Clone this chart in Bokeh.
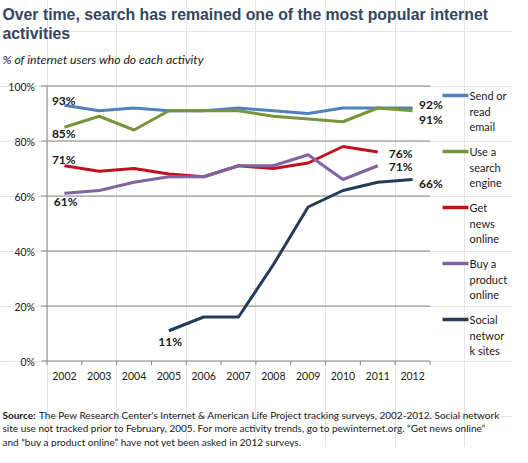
from bokeh.plotting import figure
from bokeh.models import ColumnDataSource, Range1d
from bokeh.core.properties import value
from bokeh.embed import file_html
from bokeh.resources import INLINE

# ---------------------------------------------------------------
# data
# ---------------------------------------------------------------
years = ["2002", "2003", "2004", "2005", "2006", "2007",
         "2008", "2009", "2010", "2011", "2012"]

email = [93, 91, 92, 91, 91, 92, 91, 90, 92, 92, 92]
search = [85, 89, 84, 91, 91, 91, 89, 88, 87, 92, 91]
news = [71, 69, 70, 68, 67, 71, 70, 72, 78, 76]          # 2002-2011
buy = [61, 62, 65, 67, 67, 71, 71, 75, 66, 71]           # 2002-2011
social = [11, 16, 16, 35, 56, 62, 65, 66]                # 2005-2012
social_start = 3

y_ticks = [0, 20, 40, 60, 80, 100]

series_names = [
    ["Send or", "read", "email"],
    ["Use a", "search", "engine"],
    ["Get", "news", "online"],
    ["Buy a", "product", "online"],
    ["Social", "networ", "k sites"],
]
colors = ["#4f81bd", "#77953d", "#c0111f", "#8064a2", "#243b5a"]

title_lines = ["Over time, search has remained one of the most popular internet",
               "activities"]
subtitle = "% of internet users who do each activity"
source_lines = [
    "The Pew Research Center's Internet & American Life Project tracking surveys, 2002-2012. Social network",
    "site use not tracked prior to February, 2005. For more activity trends, go to pewinternet.org.  \u201cGet news online\u201d",
    "and \u201cbuy a product online\u201d have not yet been asked in 2012 surveys.",
]

# ---------------------------------------------------------------
# geometry: canvas pixels -> data units
# ---------------------------------------------------------------
W, H = 512, 447
FRAME_L, FRAME_B = 46.5, 360.5          # px of x=0 and y=0
PXU = 383 / len(years)                   # px per category
PYU = 2.75                               # px per percent


def dx(px):
    return (px - FRAME_L) / PXU


def dy(py):
    return (FRAME_B - py) / PYU


FONT = value("Lato")
GRAY = "#868686"
TXT = "#1a1a1a"

p = figure(
    width=W, height=H,
    x_range=Range1d(dx(0), dx(W)), y_range=Range1d(dy(H), dy(0)),
    output_backend="svg", toolbar_location=None, title=None,
    x_axis_location=None, y_axis_location=None,
    min_border=0,
)
p.outline_line_color = None
p.background_fill_color = "white"
p.border_fill_color = "white"

n = len(years)

# ---------------------------------------------------------------
# axes, drawn from the tick lists
# ---------------------------------------------------------------
# horizontal gridlines (0% doubles as the x axis line)
p.segment(x0=[0] * len(y_ticks), x1=[n] * len(y_ticks), y0=y_ticks, y1=y_ticks,
          line_color=GRAY, line_width=1)
# y axis line and ticks
p.segment(x0=[0], x1=[0], y0=[0], y1=[max(y_ticks)], line_color=GRAY, line_width=1)
p.segment(x0=[dx(40.5)] * len(y_ticks), x1=[0] * len(y_ticks), y0=y_ticks, y1=y_ticks,
          line_color=GRAY, line_width=1)
p.text(x=[dx(34.5)] * len(y_ticks), y=[t - 1.2 / PYU for t in y_ticks],
       text=[f"{t}%" for t in y_ticks],
       text_font=FONT, text_font_size="10.5px", text_color=TXT,
       text_align="right", text_baseline="middle")

# x axis ticks at category boundaries, year labels at centres
bounds = list(range(n + 1))
p.segment(x0=bounds, x1=bounds, y0=[0] * len(bounds), y1=[dy(FRAME_B + 4)] * len(bounds),
          line_color=GRAY, line_width=1)
p.text(x=[i + 0.5 for i in range(n)], y=[dy(375.5)] * n, text=years,
       text_font=FONT, text_font_size="10.5px", text_color=TXT,
       text_align="center", text_baseline="middle")

# ---------------------------------------------------------------
# lines
# ---------------------------------------------------------------
all_series = [(email, 0), (search, 0), (news, 0), (buy, 0), (social, social_start)]
for (vals, start), col in zip(all_series, colors):
    xs = [start + i + 0.5 for i in range(len(vals))]
    p.line(xs, vals, line_color=col, line_width=3)

# ---------------------------------------------------------------
# data labels (first / last points); offsets in px, up positive
# ---------------------------------------------------------------
lab_x, lab_y, lab_t = [], [], []


def add_label(vals, start, idx, ox, oy):
    lab_x.append(start + idx + 0.5 + ox / PXU)
    lab_y.append(vals[idx] + oy / PYU)
    lab_t.append(f"{vals[idx]}%")


add_label(email, 0, 0, -12.5, 5)
add_label(search, 0, 0, -12.5, -6)
add_label(news, 0, 0, -12.5, 6.5)
add_label(buy, 0, 0, -10.7, -8)
add_label(social, social_start, 0, -10.6, -11)
add_label(email, 0, len(email) - 1, 6.5, 4)
add_label(search, 0, len(search) - 1, 6.5, -9)
add_label(news, 0, len(news) - 1, 11, -1)
add_label(buy, 0, len(buy) - 1, 11, -0.5)
add_label(social, social_start, len(social) - 1, 6.5, -4)

p.text(x="x", y="y", text="text",
       source=ColumnDataSource(dict(x=lab_x, y=lab_y, text=lab_t)),
       text_font=FONT, text_font_style="bold", text_font_size="12px",
       text_color=TXT, text_align="left", text_baseline="middle")

# ---------------------------------------------------------------
# legend (right side)
# ---------------------------------------------------------------
for k, (lines, col) in enumerate(zip(series_names, colors)):
    y0 = 95 + 56 * k
    p.segment(x0=[dx(442)], x1=[dx(468)], y0=[dy(y0)], y1=[dy(y0)],
              line_color=col, line_width=3.5)
    p.text(x=[dx(469)] * len(lines), y=[dy(y0 + 15.5 * j) for j in range(len(lines))],
           text=lines, text_font=FONT, text_font_size="11px", text_color=TXT,
           text_align="left", text_baseline="middle")

# ---------------------------------------------------------------
# title, subtitle, source
# ---------------------------------------------------------------
p.text(x=[dx(2)] * 2, y=[dy(13.5), dy(32.5)], text=title_lines,
       text_font=value("Liberation Sans"), text_font_style="bold",
       text_font_size="15.8px", text_color="#33465f",
       text_align="left", text_baseline="middle")

p.text(x=[dx(2)], y=[dy(58.5)], text=[subtitle],
       text_font=FONT, text_font_style="italic", text_font_size="12.2px",
       text_color=TXT, text_align="left", text_baseline="middle")

src_y = [dy(414 + 13.5 * j) for j in range(len(source_lines))]
p.text(x=[dx(2)], y=[src_y[0]], text=["Source:"],
       text_font=FONT, text_font_style="bold", text_font_size="10px",
       text_color=TXT, text_align="left", text_baseline="middle")
p.text(x=[dx(38.5), dx(2), dx(2)], y=src_y, text=source_lines,
       text_font=FONT, text_font_size="10px", text_color=TXT,
       text_align="left", text_baseline="middle")

open("out.html", "w").write(file_html(p, INLINE))
